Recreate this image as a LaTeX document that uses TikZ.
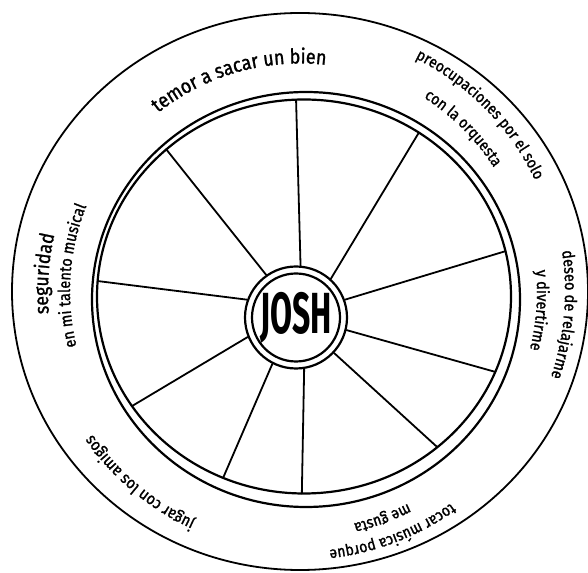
\documentclass[tikz,border=0pt]{standalone}
\usepackage{fontspec}
\setmainfont{Fira Sans}
\newfontfamily\handfont[FakeStretch=0.88,FakeBold=1.2]{Fira Sans}
\usetikzlibrary{decorations.text}

% text bent round the tyre: mid angle, baseline radius, size, text
\newcommand\ringlabel[4]{%
  \path[decorate,decoration={text along path,text align=center,
        text={|\handfont\fontsize{#3pt}{#3pt}\selectfont|#4}}]
    ([shift={(#1+40:#2pt)}]outer) arc[start angle=#1+40,end angle=#1-40,radius=#2pt];}

\begin{document}
\begin{tikzpicture}[x=1pt,y=1pt,line cap=round,
    wheel/.style={line width=2.2pt},
    spoke/.style={line width=1.8pt}]
  \useasboundingbox (0,0) rectangle (588,572);
  % tyre and rim
  \coordinate (outer) at (300,280.5);
  \coordinate (rimout) at (306,272.5);
  \coordinate (rim) at (304,275.5);
  \draw[line width=1.8pt] (outer) ellipse[x radius=288pt,y radius=278.5pt];
  \draw[wheel] (rimout) ellipse[x radius=214pt,y radius=207.5pt];
  \draw[wheel] (rim) ellipse[x radius=207pt,y radius=197pt];
  % hub
  \node[circle,draw,wheel,minimum size=102pt,inner sep=0pt,text depth=9pt] (josh) at (296,254.5)
    {\scalebox{0.55}[1]{\fontsize{58pt}{58pt}\selectfont\bfseries JOSH}};
  \draw[wheel] (josh.center) circle[radius=44pt];
  % spokes
  \foreach \h/\t in {85.7/92.2,48.9/56.3,20.7/13.3,-14.9/-22.5,-43.8/-49.9,
                     -81/-90.6,-117.7/-113,-158/-146.2,160.4/175.5,125/131.7}
    \draw[spoke] (josh.\h) -- ([shift={(\t:207pt and 197pt)}]rim);
  % labels
  \ringlabel{106}{228}{20.5}{temor a sacar un bien}
  \ringlabel{44.5}{260}{16}{preocupaciones por el solo}
  \ringlabel{45}{230}{16}{con la orquesta}
  \ringlabel{-5}{265}{16.5}{deseo de relajarme}
  \ringlabel{-4.5}{237}{16.5}{y divertirme}
  \ringlabel{-69}{260}{16}{tocar música porque}
  \ringlabel{-70}{238}{16}{me gusta}
  \ringlabel{-130}{252}{16.5}{jugar con los amigos}
  \ringlabel{176}{252}{20}{seguridad}
  \ringlabel{176}{230}{16.5}{en mi talento musical}
\end{tikzpicture}
\end{document}
